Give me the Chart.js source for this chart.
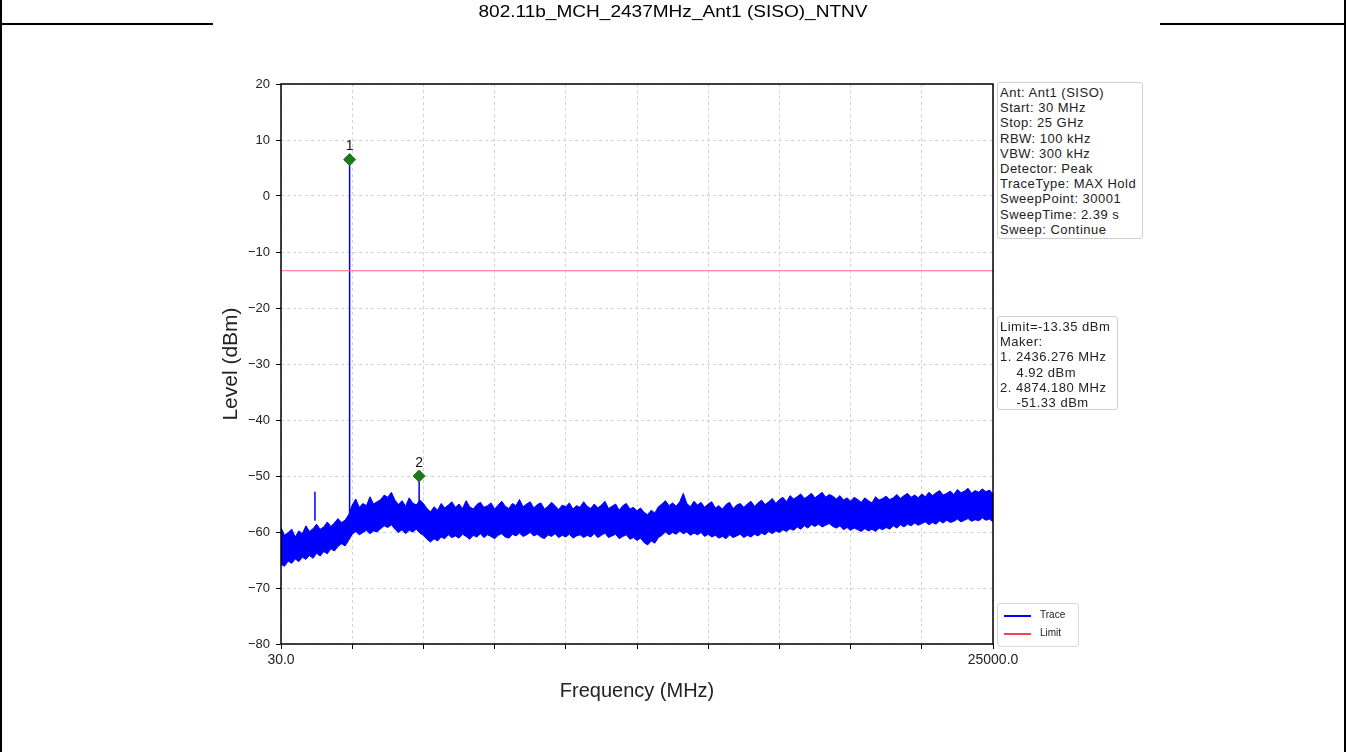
<!DOCTYPE html>
<html>
<head>
<meta charset="utf-8">
<script src="https://cdn.jsdelivr.net/npm/chart.js@4/dist/chart.umd.min.js"></script>
<style>
  html, body { margin:0; padding:0; background:#fff; }
  #page { position:relative; width:1346px; height:752px; overflow:hidden; background:#fff;
          font-family:'Liberation Sans', Arial, sans-serif; }
  #chartWrap { position:absolute; left:0; top:0; width:1346px; height:752px; }
  .vline { position:absolute; top:0; width:2px; height:752px; background:#000; }
  .hline { position:absolute; top:23px; height:2px; background:#000; }
  #title { position:absolute; top:3px; left:0; width:1346px; text-align:center; font-size:16px; color:#000;
           transform:scaleX(1.19); transform-origin:673px 0; }
  .box { position:absolute; border:1px solid #cfcfcf; border-radius:3px; background:#fff;
         font-size:13px; letter-spacing:0.5px; line-height:15.2px; color:#222; padding:2px 2px; white-space:pre; }
  .leg { position:absolute; border:1px solid #d8d8d8; border-radius:3px; background:#fff; font-size:10px; color:#222; }
  .leg div { position:relative; height:18px; line-height:18px; padding-left:42px; }
  .leg span { position:absolute; left:6px; top:9px; width:27px; height:2px; }
</style>
</head>
<body>
<div id="page">
  <div id="chartWrap"><canvas id="c" width="1346" height="752"></canvas></div>
  <div class="vline" style="left:0"></div>
  <div class="vline" style="left:1344px"></div>
  <div class="hline" style="left:0;width:213px"></div>
  <div class="hline" style="left:1160px;width:186px"></div>
  <div id="title"></div>
  <div class="box" id="info1" style="left:997px;top:82px;width:140px;height:151px"></div>
  <div class="box" id="info2" style="left:997px;top:316px;width:115px;height:88px"></div>
  <div class="leg" style="left:997px;top:603px;width:80px;height:40px;padding-top:2px">
    <div><span style="background:#0000ff"></span>Trace</div>
    <div><span style="background:#ff4050"></span>Limit</div>
  </div>
</div>
<script>
// ---------------- data ----------------
const titleText = '802.11b_MCH_2437MHz_Ant1 (SISO)_NTNV';
const infoLines1 = ['Ant: Ant1 (SISO)','Start: 30 MHz','Stop: 25 GHz','RBW: 100 kHz','VBW: 300 kHz',
  'Detector: Peak','TraceType: MAX Hold','SweepPoint: 30001','SweepTime: 2.39 s','Sweep: Continue'];
const infoLines2 = ['Limit=-13.35 dBm','Maker:','1. 2436.276 MHz','    4.92 dBm','2. 4874.180 MHz','    -51.33 dBm'];

const freqStart = 30, freqStop = 25000;
const xTickValues = [30, 2527, 5024, 7521, 10018, 12515, 15012, 17509, 20006, 22503, 25000];
const xTickLabels = ['30.0','','','','','','','','','','25000.0'];
const yTickValues = [20, 10, 0, -10, -20, -30, -40, -50, -60, -70, -80];

// trace envelope (max / min of the noise band), 201 sweep bins evenly spaced 30 .. 25000 MHz
const traceUpper = [
 -59.2,-60.6,-60.1,-59.5,-60.9,-59.8,-60.3,-58.9,-59.9,-59.4,
 -58.6,-59.5,-59.1,-58.2,-59.0,-58.4,-57.6,-58.3,-57.9,-56.9,
 -55.2,-54.1,-55.6,-54.9,-55.3,-53.7,-55.0,-54.6,-54.2,-53.4,
 -53.8,-52.9,-54.3,-55.1,-54.4,-55.4,-53.9,-54.8,-55.2,-54.3,
 -54.9,-55.8,-56.4,-55.5,-56.1,-54.9,-55.7,-55.2,-54.6,-55.6,
 -55.0,-55.8,-54.4,-55.5,-55.9,-55.1,-54.7,-55.6,-55.3,-54.8,
 -55.9,-55.2,-54.5,-55.4,-55.8,-54.9,-55.3,-54.2,-55.5,-55.0,
 -54.6,-55.7,-55.1,-54.8,-55.9,-55.4,-54.7,-55.3,-56.0,-55.2,
 -55.5,-54.8,-55.9,-55.3,-55.6,-54.6,-55.4,-55.8,-55.0,-55.7,
 -55.2,-54.5,-55.8,-55.4,-55.0,-56.1,-55.3,-54.9,-55.9,-55.6,
 -56.2,-55.7,-56.5,-56.9,-56.1,-56.6,-55.5,-55.0,-54.4,-55.3,
 -54.8,-55.4,-54.6,-53.1,-54.9,-55.5,-54.5,-55.2,-54.7,-55.6,
 -55.0,-54.6,-55.7,-55.3,-55.9,-55.1,-54.7,-55.8,-55.2,-54.9,
 -55.6,-55.0,-54.5,-55.4,-54.8,-54.3,-55.1,-54.6,-54.0,-54.9,
 -54.2,-53.8,-54.6,-53.5,-54.1,-53.7,-53.2,-54.0,-53.6,-53.1,
 -53.9,-53.4,-52.9,-53.8,-53.3,-53.6,-54.1,-53.5,-54.3,-53.9,
 -54.5,-53.8,-54.2,-54.7,-53.9,-54.4,-54.8,-53.7,-54.3,-54.0,
 -53.6,-54.2,-53.9,-53.3,-54.0,-53.5,-53.1,-53.8,-53.4,-53.9,
 -53.2,-53.7,-52.9,-53.5,-53.0,-52.6,-53.4,-53.1,-52.7,-53.3,
 -52.4,-53.0,-52.7,-52.2,-53.1,-52.6,-52.9,-52.3,-52.8,-52.5,-53.2];
const traceLower = [
 -65.8,-66.1,-65.2,-65.6,-64.8,-65.3,-64.5,-64.9,-64.2,-64.7,
 -63.8,-64.3,-63.5,-63.9,-63.0,-63.4,-62.6,-62.1,-62.5,-61.5,
 -60.4,-59.9,-60.5,-60.1,-59.7,-60.3,-59.8,-60.0,-59.4,-58.9,
 -59.2,-58.7,-59.5,-60.1,-59.6,-60.3,-59.7,-60.0,-59.5,-60.2,
 -60.6,-61.3,-61.8,-61.2,-61.6,-60.9,-61.2,-60.5,-61.0,-60.7,
 -61.1,-60.4,-60.8,-61.3,-60.6,-60.9,-60.3,-61.0,-60.5,-60.8,
 -61.2,-60.6,-60.3,-60.9,-61.1,-60.4,-60.7,-60.2,-60.8,-60.5,
 -60.1,-60.7,-60.4,-60.9,-61.2,-60.5,-60.8,-60.3,-61.0,-60.6,
 -60.9,-60.4,-61.1,-60.7,-60.5,-61.0,-60.6,-60.9,-60.3,-61.0,
 -60.6,-60.2,-61.0,-60.7,-60.4,-61.2,-60.8,-60.5,-61.3,-61.0,
 -61.5,-61.1,-61.9,-62.3,-61.6,-62.0,-61.0,-60.6,-60.0,-60.5,
 -60.1,-60.4,-59.8,-60.3,-60.0,-60.6,-60.2,-60.5,-60.1,-60.8,
 -60.4,-60.9,-60.6,-61.1,-60.8,-61.2,-60.5,-61.0,-60.7,-60.4,
 -61.0,-60.6,-60.9,-60.4,-60.7,-60.2,-60.5,-59.9,-60.3,-59.8,
 -60.1,-59.6,-59.9,-59.4,-59.7,-59.1,-59.5,-58.9,-59.3,-58.7,
 -59.0,-58.6,-59.1,-58.8,-58.5,-59.0,-59.3,-58.9,-59.6,-59.2,
 -59.7,-59.3,-59.6,-59.9,-59.4,-59.8,-59.5,-59.9,-59.3,-59.6,
 -59.2,-59.5,-58.9,-59.3,-58.7,-59.1,-58.6,-58.9,-58.4,-58.8,
 -58.5,-58.2,-58.7,-58.3,-58.6,-58.0,-58.4,-57.9,-58.3,-58.1,
 -57.7,-58.2,-57.9,-57.6,-58.1,-57.8,-58.0,-57.5,-57.9,-57.7,-58.2];

// narrow spurs / carrier drawn as vertical lines
const spurFreqs  = [1220, 2436.276, 4874.18];
const spurBase   = [-58.0, -56.5, -56.0];
const spurTops   = [-52.8, 6.5, -50.0];

// markers
const markerFreqs  = [2436.276, 4874.18];
const markerLevels = [6.5, -50.0];
const markerLabels = ['1', '2'];

const limitLevel = -13.35;

// ---------------- page texts ----------------
document.getElementById('title').textContent = titleText;
document.getElementById('info1').textContent = infoLines1.join('\n');
document.getElementById('info2').textContent = infoLines2.join('\n');

// ---------------- build datasets ----------------
const nBins = traceUpper.length;
const binFreq = i => freqStart + i * (freqStop - freqStart) / (nBins - 1);
const upperPts = traceUpper.map((v, i) => ({x: binFreq(i), y: v}));
const lowerPts = traceLower.map((v, i) => ({x: binFreq(i), y: v}));
const spurPts = [];
spurFreqs.forEach((f, i) => {
  spurPts.push({x: f, y: spurBase[i]}, {x: f, y: spurTops[i]}, {x: f, y: null});
});
const markerPts = markerFreqs.map((f, i) => ({x: f, y: markerLevels[i]}));
const limitPts = [{x: freqStart, y: limitLevel}, {x: freqStop, y: limitLevel}];

Chart.defaults.font.family = "'Liberation Sans', Arial, sans-serif";

const framePlugin = {
  id: 'frame',
  afterDatasetsDraw(chart) {
    const {ctx, chartArea: a} = chart;
    ctx.save();
    ctx.strokeStyle = '#000';
    ctx.lineWidth = 1.5;
    ctx.strokeRect(a.left, a.top, a.right - a.left, a.bottom - a.top);
    const xs = chart.scales.x, ys = chart.scales.y;
    ctx.fillStyle = '#111';
    ctx.font = "14px 'Liberation Sans', Arial, sans-serif";
    ctx.textAlign = 'center';
    ctx.textBaseline = 'bottom';
    markerFreqs.forEach((f, i) => {
      ctx.fillText(markerLabels[i], xs.getPixelForValue(f), ys.getPixelForValue(markerLevels[i]) - 6);
    });
    ctx.restore();
  }
};

new Chart(document.getElementById('c'), {
  type: 'line',
  data: {
    datasets: [
      { label: 'Trace', data: upperPts, borderColor: '#0000ff', backgroundColor: '#0000ff',
        borderWidth: 1, pointRadius: 0, fill: '+1', tension: 0, order: 3 },
      { label: 'TraceLow', data: lowerPts, borderColor: '#0000ff', backgroundColor: '#0000ff',
        borderWidth: 1, pointRadius: 0, fill: false, tension: 0, order: 3 },
      { label: 'Spurs', data: spurPts, borderColor: '#0000ff', borderWidth: 1.5, pointRadius: 0,
        fill: false, spanGaps: false, order: 2 },
      { label: 'Limit', data: limitPts, borderColor: '#ff6878', borderWidth: 1.2, pointRadius: 0,
        fill: false, order: 1 },
      { label: 'Markers', data: markerPts, showLine: false, pointStyle: 'rectRot', pointRadius: 6,
        pointBackgroundColor: '#1c7a1c', pointBorderColor: '#1c7a1c', order: 0 }
    ]
  },
  options: {
    responsive: false,
    animation: false,
    layout: { padding: { left: 200, right: 353, top: 84, bottom: 28 } },
    plugins: { legend: { display: false }, tooltip: { enabled: false } },
    scales: {
      x: {
        type: 'linear', min: freqStart, max: freqStop,
        afterFit: s => { s.height = 80; },
        afterBuildTicks: s => { s.ticks = xTickValues.map(v => ({value: v})); },
        ticks: { autoSkip: false, maxRotation: 0, padding: 3, color: '#222', font: { size: 14 },
                 callback: (v, i) => xTickLabels[i] },
        grid: { color: '#d2d2d2', lineWidth: 1, tickColor: '#000', tickLength: 5, tickWidth: 1,
                tickBorderDash: [1, 0] },
        border: { display: false, dash: [3, 3] },
        title: { display: true, text: 'Frequency (MHz)', color: '#222', font: { size: 20 },
                 padding: { top: 0, bottom: 21 } }
      },
      y: {
        type: 'linear', min: -80, max: 20,
        afterFit: s => { s.width = 81; },
        afterBuildTicks: s => { s.ticks = yTickValues.map(v => ({value: v})); },
        ticks: { padding: 6, color: '#222', font: { size: 13 },
                 callback: v => (v < 0 ? '\u2212' + Math.abs(v) : String(v)) },
        grid: { color: '#d2d2d2', lineWidth: 1, tickColor: '#000', tickLength: 5, tickWidth: 1,
                tickBorderDash: [1, 0] },
        border: { display: false, dash: [3, 3] },
        title: { display: true, text: 'Level (dBm)', color: '#222', font: { size: 21 },
                 padding: { top: 19, bottom: 0 } }
      }
    }
  },
  plugins: [framePlugin]
});
</script>
</body>
</html>
